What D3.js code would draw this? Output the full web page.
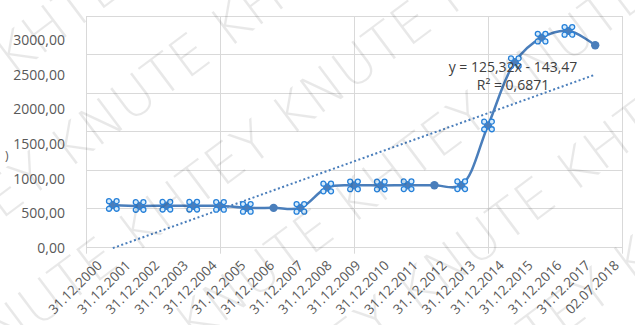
<!DOCTYPE html>
<html>
<head>
<meta charset="utf-8">
<script src="https://cdn.jsdelivr.net/npm/d3@7"></script>
<style>
  html, body { margin: 0; padding: 0; background: #fff; }
  svg { display: block; }
</style>
</head>
<body>
<svg id="chart" width="635" height="325"></svg>
<script>
// Exchange rate series (UAH per 100 USD) at the end of each period
const dates = ["31.12.2000", "31.12.2001", "31.12.2002", "31.12.2003", "31.12.2004",
  "31.12.2005", "31.12.2006", "31.12.2007", "31.12.2008", "31.12.2009", "31.12.2010",
  "31.12.2011", "31.12.2012", "31.12.2013", "31.12.2014", "31.12.2015", "31.12.2016",
  "31.12.2017", "02.07.2018"];
const rates = [543, 530, 533, 533, 531, 505, 505, 505, 770, 798, 796, 799, 799, 799,
  1577, 2400, 2719, 2807, 2620];
// points that carry the four-handle selection marker
const handles = [1, 1, 1, 1, 1, 1, 0, 1, 1, 1, 1, 1, 0, 1, 1, 1, 1, 1, 0];
const yTicks = [0, 500, 1000, 1500, 2000, 2500, 3000];
// linear trend: y = 125,32x - 143,47
const trendSlope = 125.32;
const trendIntercept = -143.47;
const trendText = ["y = 125,32x - 143,47", "R² = 0,6871"];
const watermarkWords = ["KHTEY", "KNUTE"];

const svg = d3.select("#chart");
const W = 635, H = 325;
const plotL = 86, plotR = 622, plotT = 16, plotB = 246.7;

svg.append("rect").attr("width", W).attr("height", H).attr("fill", "#fff");

// data scales
const x = d3.scaleLinear().domain([0, dates.length + 1]).range([plotL, plotR]);
const y = d3.scaleLinear().domain([0, 3000]).range([plotB, plotT]);
// label placement scales
const yLab = d3.scaleLinear().domain([0, 3000]).range([248, 40]);
const xLab = d3.scalePoint().domain(dates).range([99, 616]);

const fmt = d3.formatLocale({ decimal: ",", thousands: "", grouping: [3], currency: ["", ""] }).format(".2f");

// gridlines
const grid = svg.append("g");
grid.selectAll("line.h").data(yTicks).join("line")
  .attr("x1", plotL).attr("x2", plotR)
  .attr("y1", d => Math.round(y(d)) + 0.5).attr("y2", d => Math.round(y(d)) + 0.5)
  .attr("stroke", "#d9d9d9").attr("stroke-width", 1);
grid.selectAll("line.v").data([0, 5, 10, 15, 20]).join("line")
  .attr("x1", d => Math.round(x(d)) + 0.5).attr("x2", d => Math.round(x(d)) + 0.5)
  .attr("y1", plotT).attr("y2", plotB + 7)
  .attr("stroke", "#d9d9d9").attr("stroke-width", 1);

// y labels
const yAxis = svg.append("g").attr("transform", "translate(68,0)")
  .call(d3.axisLeft(yLab).tickValues(yTicks).tickFormat(fmt).tickSize(0).tickPadding(3));
yAxis.select(".domain").remove();
yAxis.selectAll("text").attr("fill", "#595959")
  .style("font-family", "'Open Sans', sans-serif").style("font-size", "14px");

// fragment of the y-axis title at the left edge
svg.append("text").attr("x", 5).attr("y", 160).attr("fill", "#595959")
  .style("font-family", "'Open Sans', sans-serif").style("font-size", "12px").text(")");

// x labels, rotated
const xAxis = svg.append("g").attr("transform", "translate(0,263)")
  .call(d3.axisBottom(xLab).tickSize(0).tickPadding(0));
xAxis.select(".domain").remove();
xAxis.selectAll("text").attr("fill", "#595959")
  .style("font-family", "'Open Sans', sans-serif").style("font-size", "13.5px")
  .attr("text-anchor", "end").attr("y", 0).attr("dy", "0.35em")
  .attr("transform", "rotate(-45)");

// trend line
const trend = d3.line().x(d => x(d)).y(d => y(trendSlope * d + trendIntercept));
svg.append("path").datum([1, dates.length])
  .attr("d", trend).attr("fill", "none")
  .attr("stroke", "#4a7ebb").attr("stroke-width", 2)
  .attr("stroke-dasharray", "2,2.5");

// series line
const pts = rates.map((v, i) => ({ i: i + 1, v, h: handles[i] }));
const line = d3.line().x(d => x(d.i)).y(d => y(d.v)).curve(d3.curveCatmullRom.alpha(0.5));
svg.append("path").datum(pts).attr("d", line)
  .attr("fill", "none").attr("stroke", "#4a7ebb").attr("stroke-width", 2.5);

// markers
const mk = svg.append("g").selectAll("g").data(pts).join("g")
  .attr("transform", d => `translate(${x(d.i)},${y(d.v)})`);
mk.append("circle").attr("r", 4.2).attr("fill", "#4a7ebb");
const offs = [[-3.8, -3.8], [3.8, -3.8], [-3.8, 3.8], [3.8, 3.8]];
mk.filter(d => d.h).selectAll("circle.hd").data(offs).join("circle")
  .attr("cx", d => d[0]).attr("cy", d => d[1]).attr("r", 2.5)
  .attr("fill", "#d6ebfb").attr("stroke", "#2680d9").attr("stroke-width", 1.3);

// trend equation
svg.append("g").selectAll("text").data(trendText).join("text")
  .attr("x", 513).attr("y", (d, i) => 72 + i * 18)
  .attr("text-anchor", "middle").attr("fill", "#404040")
  .style("font-family", "'Open Sans', sans-serif").style("font-size", "14px")
  .text(d => d);

// watermark
const wm = svg.append("g").attr("pointer-events", "none");
const rows = d3.range(-4, 9);
wm.selectAll("text").data(rows).join("text")
  .attr("transform", k => `translate(${-210 + k * 62},${110 + k * 88}) rotate(-37)`)
  .attr("fill", "#000").attr("fill-opacity", 0.09)
  .style("font-family", "'DejaVu Sans', sans-serif").style("font-weight", 200)
  .style("font-size", "54px")
  .text(k => d3.range(5).map(j => watermarkWords[(j + k) % 2 ? 1 : 0]).join(" "));
</script>
</body>
</html>
